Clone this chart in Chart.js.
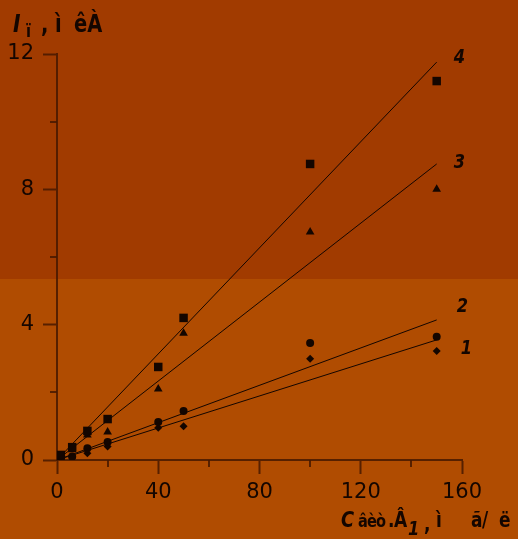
<!DOCTYPE html>
<html>
<head>
<meta charset="utf-8">
<script src="https://cdn.jsdelivr.net/npm/chart.js@4/dist/chart.umd.min.js"></script>
<style>
  body { margin: 0; background: #b04c01; }
  canvas { display: block; }
</style>
</head>
<body>
<canvas id="chart" width="518" height="539"></canvas>
<script>
// concentrations (x) and measured currents for the four series
const concVals = [0, 1.5, 6, 12, 20, 40, 50, 100, 150];
const series4 = [0, 0.15, 0.38, 0.86, 1.21, 2.75, 4.2, 8.75, 11.2];
const series3 = [0, 0.1, 0.3, 0.74, 0.83, 2.1, 3.75, 6.74, 8.0];
const series2 = [0, 0.05, 0.1, 0.35, 0.53, 1.12, 1.45, 3.46, 3.64];
const series1 = [0, 0.03, 0.07, 0.2, 0.4, 0.95, 1.0, 2.99, 3.22];

// fitted straight lines: value at x = 0 and x = 150
const fitX = [0, 150];
const fit4 = [0, 11.76];
const fit3 = [0, 8.75];
const fit2 = [0, 4.14];
const fit1 = [0, 3.55];

const seriesNames = ['4', '3', '2', '1'];
const xTicks = [0, 40, 80, 120, 160];
const yTicks = [0, 4, 8, 12];
const xMinor = [20, 60, 100, 140];
const yMinor = [2, 6, 10];

const ink = '#140600';
const axisColor = 'rgba(70,25,0,0.85)';
const fam = "'DejaVu Sans', sans-serif";

function pts(xs, ys) {
    return xs.map((x, i) => ({ x: x, y: ys[i] }));
}

function fitLine(ys) {
    return {
        type: 'line',
        data: pts(fitX, ys),
        borderColor: ink,
        borderWidth: 1,
        pointRadius: 0,
        fill: false,
    };
}

function markers(ys, style, r) {
    return {
        type: 'scatter',
        data: pts(concVals, ys),
        pointStyle: style,
        pointRadius: r,
        pointBackgroundColor: ink,
        pointBorderColor: ink,
        borderWidth: 0,
    };
}

// two-tone background
const backdrop = {
    id: 'backdrop',
    beforeDraw(chart) {
        const ctx = chart.ctx;
        ctx.save();
        ctx.fillStyle = '#a13b00';
        ctx.fillRect(0, 0, chart.width, 279);
        ctx.fillStyle = '#b04c01';
        ctx.fillRect(0, 279, chart.width, chart.height - 279);
        ctx.restore();
    }
};

// draw a text piece squeezed horizontally, left edge at x
function squeezed(ctx, txt, x, y, font) {
    ctx.save();
    ctx.font = font;
    ctx.translate(x, y);
    ctx.scale(0.9, 1);
    ctx.fillText(txt, 0, 0);
    ctx.restore();
}

// minor ticks, series numbers and axis titles
const extras = {
    id: 'extras',
    afterDraw(chart) {
        const ctx = chart.ctx;
        const xs = chart.scales.x;
        const ys = chart.scales.y;
        const area = chart.chartArea;
        ctx.save();
        ctx.strokeStyle = axisColor;
        ctx.lineWidth = 2;
        ctx.beginPath();
        yMinor.forEach(v => {
            const y = Math.round(ys.getPixelForValue(v));
            ctx.moveTo(area.left - 7, y);
            ctx.lineTo(area.left, y);
        });
        xMinor.forEach(v => {
            const x = Math.round(xs.getPixelForValue(v));
            ctx.moveTo(x, area.bottom);
            ctx.lineTo(x, area.bottom + 7);
        });
        ctx.stroke();

        ctx.fillStyle = ink;
        ctx.textAlign = 'left';
        ctx.textBaseline = 'alphabetic';
        const big = 'italic bold condensed 20px ' + fam;
        const ends = [fit4[1], fit3[1], fit2[1], fit1[1]];
        const shifts = [[17, 1], [17, 4], [20, -8], [24, 14]];
        seriesNames.forEach((name, i) => {
            const x = xs.getPixelForValue(fitX[1]) + shifts[i][0];
            const y = ys.getPixelForValue(ends[i]) + shifts[i][1];
            squeezed(ctx, name, x, y, big);
        });

        // y title
        const bi = 'italic bold condensed 25px ' + fam;
        const b = 'bold condensed 24px ' + fam;
        squeezed(ctx, 'I', 13, 32, bi);
        squeezed(ctx, 'ï', 26, 37, 'bold condensed 18px ' + fam);
        squeezed(ctx, ',', 41, 32, b);
        squeezed(ctx, 'ì', 55, 32, b);
        squeezed(ctx, 'êÀ', 74, 32, b);

        // x title
        const xb = 'bold condensed 21px ' + fam;
        const xt = 'bold condensed 18px ' + fam;
        squeezed(ctx, 'C', 341, 527, 'italic bold condensed 22px ' + fam);
        squeezed(ctx, 'â', 358, 527, xt);
        squeezed(ctx, 'è', 367, 527, xt);
        squeezed(ctx, 'ò', 376, 527, xt);
        squeezed(ctx, '.', 388, 527, xb);
        squeezed(ctx, 'Â', 394, 527, xb);
        squeezed(ctx, '1', 408, 535, 'italic bold condensed 20px ' + fam);
        squeezed(ctx, ',', 424, 531, xb);
        squeezed(ctx, 'ì', 436, 527, xb);
        squeezed(ctx, 'ã', 471, 527, xb);
        squeezed(ctx, '/', 482, 527, xb);
        squeezed(ctx, 'ë', 499, 527, xb);
        ctx.restore();
    }
};

const ctx = document.getElementById('chart').getContext('2d');
new Chart(ctx, {
    data: {
        datasets: [
            fitLine(fit4),
            fitLine(fit3),
            fitLine(fit2),
            fitLine(fit1),
            markers(series4, 'rect', 6),
            markers(series3, 'triangle', 5),
            markers(series2, 'circle', 4),
            markers(series1, 'rectRot', 4),
        ],
    },
    options: {
        responsive: false,
        devicePixelRatio: 1,
        animation: false,
        layout: { padding: { top: 54, right: 56, left: 0, bottom: 0 } },
        plugins: {
            legend: { display: false },
            tooltip: { enabled: false },
        },
        scales: {
            x: {
                type: 'linear',
                min: 0,
                max: 160,
                afterFit(scale) { scale.height = 79; },
                afterBuildTicks(scale) { scale.ticks = xTicks.map(v => ({ value: v })); },
                border: { color: axisColor, width: 2 },
                grid: { drawOnChartArea: false, tickLength: 14, tickColor: axisColor, tickWidth: 2 },
                ticks: { color: ink, padding: 6, font: { family: fam, size: 21, style: 'condensed' }, maxRotation: 0 },
            },
            y: {
                type: 'linear',
                min: 0,
                max: 12,
                afterFit(scale) { scale.width = 57; },
                afterBuildTicks(scale) { scale.ticks = yTicks.map(v => ({ value: v })); },
                border: { color: axisColor, width: 2 },
                grid: { drawOnChartArea: false, tickLength: 14, tickColor: axisColor, tickWidth: 2 },
                ticks: { color: ink, padding: 9, font: { family: fam, size: 21, style: 'condensed' } },
            },
        },
    },
    plugins: [backdrop, extras],
});
</script>
</body>
</html>
